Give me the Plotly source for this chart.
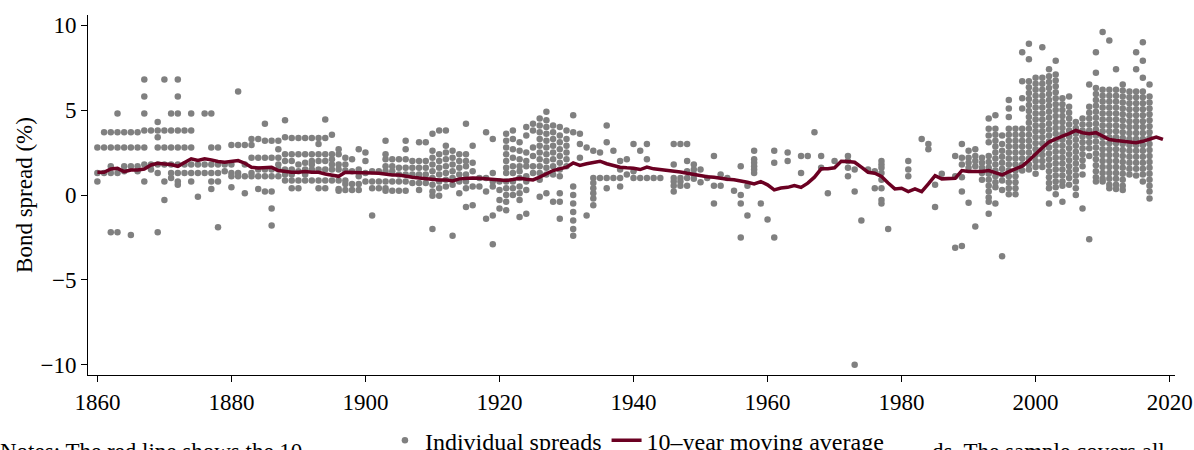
import plotly.graph_objects as go

# ---------------- data ----------------
# Individual spreads (%), grouped by year; each era starts at the given year
era_a_start = 1860
era_a_spreads = [
    [2.8, 1.3, 0.8],
    [3.7, 2.8, 1.3],
    [3.7, 2.8, 1.7, 1.3, -2.2],
    [4.8, 3.7, 2.8, 1.3, -2.2],
    [3.7, 2.8, 1.7, 1.4],
    [3.7, 2.8, 1.7, -2.35],
    [3.7, 2.8, 1.7, 1.4],
    [6.8, 5.8, 4.8, 3.8, 2.8, 1.8, 0.8],
    [3.8, 1.8, 1.5],
    [4.3, 3.8, 3.4, 2.8, 1.8, 1.3, -2.2],
    [6.8, 3.8, 2.8, 1.8, 0.8, -0.3],
    [4.8, 3.8, 2.8, 1.8, 1.3, 1.0],
    [6.8, 5.8, 4.8, 3.8, 2.8, 1.8, 1.3, 0.8, 0.6],
    [3.8, 2.8, 1.8, 1.3],
    [4.8, 3.8, 2.8, 1.8, 1.3, 0.8],
    [1.8, 1.3, -0.1],
    [4.8, 1.8, 1.3],
    [4.8, 2.8, 1.8, 1.3, 0.8, 0.35],
    [2.8, 1.8, 1.3, 0.8, -1.9],
    [1.8, 1.4],
    [2.95, 1.8, 1.3, 1.1, 0.45],
    [6.1, 2.95, 1.3, 1.1],
    [2.95, 1.8, 1.1, 0.1],
    [3.3, 2.95, 2.2, 1.3, 1.1],
    [3.3, 2.2, 1.5, 1.1, 0.35],
    [4.2, 3.2, 2.2, 1.5, 1.1, 0.2],
    [3.2, 2.2, 1.5, 1.1, 0.2, -0.8, -1.8],
    [3.2, 2.7, 2.2, 1.8, 1.5, 1.1],
]

era_b_start = 1888
era_b_spreads = [
    [4.4, 3.4, 2.4, 2.0, 1.5, 1.2, 0.85],
    [3.35, 2.4, 2.0, 1.5, 1.2, 0.85, 0.4],
    [3.35, 2.4, 1.8, 1.4, 0.85, 0.4],
    [3.35, 2.4, 1.9, 1.5, 1.2, 0.85],
    [3.35, 2.4, 2.0, 1.8, 1.5, 0.85],
    [3.35, 3.0, 2.4, 2.0, 1.5, 0.85, 0.4],
    [4.45, 3.35, 2.4, 2.0, 1.5, 0.85, 0.4],
    [3.55, 2.4, 2.1, 1.8, 1.5, 0.85],
    [2.7, 2.4, 1.8, 1.5, 0.85, 0.35, 0.25],
    [2.2, 1.8, 1.45, 0.85, 0.65, 0.3],
    [2.1, 1.4, 0.65, 0.3],
    [2.7, 1.5, 1.1, 0.65, 0.3],
    [2.5, 2.0, 1.3, 0.8],
    [1.4, 0.8, 0.4, -1.2],
    [1.4, 0.8, 0.4],
    [3.2, 2.4, 2.1, 1.7, 1.4, 0.8, 0.4, 0.25],
    [2.1, 1.7, 1.4, 0.8, 0.25],
    [2.1, 1.6, 1.2, 0.8, 0.25],
    [3.2, 2.7, 2.1, 1.6, 1.2, 0.8, 0.25],
    [2.0, 1.6, 1.2, 0.7],
    [3.1, 2.0, 1.6, 1.2, 0.7, 0.3],
    [3.1, 2.0, 1.6, 1.2, 0.7],
    [3.6, 2.6, 2.2, 1.8, 1.4, 1.0, 0.6, 0.2, -0.05, -2.0],
    [3.8, 2.4, 2.0, 1.6, 1.2, 0.8, 0.4, -0.05],
    [3.8, 2.9, 2.5, 2.1, 1.7, 1.3, 0.9, 0.5],
    [2.6, 2.2, 1.8, 1.4, 1.0, 0.6, -2.4],
    [2.4, 2.0, 1.6, 1.2, 0.8, 0.1],
    [4.2, 2.4, 2.0, 1.7, 1.2, 0.8, 0.4, -0.7],
]

era_c_start = 1916
era_c_spreads = [
    [2.9, 1.9, 1.4, 0.5, -0.6],
    [1.0, 0.5],
    [3.7, 1.0, 0.2, -1.4],
    [3.3, 1.3, 0.8, 0.5, -1.2, -2.9],
    [0.8, 0.3, -0.3, -0.8],
    [3.6, 3.2, 2.8, 2.4, 2.0, 1.6, 1.3, 0.8, 0.4, 0.0, -0.4, -0.9],
    [3.8, 3.3, 2.7, 2.2, 1.7, 1.3, 0.8, 0.4, 0.0],
    [3.1, 2.6, 2.1, 1.7, 1.4, 1.0, 0.5, 0.1, -0.3, -1.3],
    [4.0, 3.5, 2.5, 2.0, 1.7, 1.1, 0.8, 0.3, -1.1],
    [4.2, 3.8, 2.8, 2.3, 1.7, 1.3],
    [4.5, 4.1, 3.7, 3.3, 2.9, 2.5, 2.1, 1.7, 1.3, 0.9, -0.1],
    [4.9, 4.4, 4.0, 3.6, 3.2, 2.8, 2.4, 2.0, 1.6, 1.2, 0.1],
    [4.1, 3.7, 3.3, 2.9, 2.5, 2.1, 1.7, 1.2, -0.4],
    [4.0, 3.5, 3.1, 2.7, 2.3, 1.9, 1.5, 1.1, 0.1, -0.4, -1.4],
    [3.8, 3.3, 2.9, 2.5, 2.1, 1.7],
    [4.7, 3.7, 0.5, 0.0, -0.5, -1.0, -1.5, -2.0, -2.4],
    [3.6, 3.0, 2.2],
    [2.8, -1.2],
    [2.6, 1.0, 0.7, 0.4, 0.1, -0.2, -0.6],
    [2.5, 1.0],
    [4.1, 3.1, 1.0, 0.4],
    [2.6, 1.0],
    [2.0, 1.5, 1.0, 0.5],
    [2.1, 1.2],
    [3.0, 1.4, 1.0],
    [2.6, 1.0],
    [3.0, 2.1, 1.0],
    [1.0],
    [1.0],
    [],
]

era_d_start = 1946
era_d_spreads = [
    [3.0, 1.8, 1.0, 0.8, 0.55, 0.2],
    [3.0, 1.0, 0.8, 0.55],
    [3.0, 2.0, 1.4, 1.0, 0.55],
    [1.8, 1.5, 1.2, 0.95],
    [1.5, 0.75],
    [1.0],
    [2.3, 0.55, -0.5],
    [1.2, 0.55],
    [1.0],
    [0.25],
    [1.7, 0.0, -0.5, -2.5],
    [0.55, -1.2],
    [2.6, 2.1, 1.9, 1.7, 1.5, 1.3],
    [-0.5],
    [-1.45],
    [2.6, 1.9, -2.5],
    [],
    [2.5, 2.0],
    [],
    [2.3, 1.3],
    [2.3],
    [3.7],
    [2.3, 1.6],
    [0.1],
    [2.0],
    [],
    [2.3, 2.0, 1.6, 1.1],
    [1.5, 0.2, -10.0],
    [-1.5],
    [1.5],
    [1.4, 0.4],
    [2.0, 1.8, 1.6, 1.3, 0.9, 0.4, -0.3, -0.5],
    [-2.0],
    [],
    [],
    [2.0, 1.5, 1.1],
    [],
    [3.3],
    [3.0, 2.7],
    [0.6, -0.7],
    [1.25],
    [],
    [2.3, 1.1, -3.1],
    [3.0, 2.2, 1.8, 1.05, 0.2, -3.0],
    [2.6, 2.2, 1.9, 1.6, -0.45],
    [2.7, 2.3, 2.0, 1.7, -1.85],
    [2.2, 1.9, 1.6, 1.3, 0.9],
]

era_e_start = 1993
era_e_spreads = [
    [4.5, 3.9, 3.5, 3.1, 2.3, 1.95, 1.6, 1.25, 0.9, 0.55, 0.2, -0.15, -0.4, -1.1],
    [4.7, 3.9, 3.55, 3.2, 2.85, 2.5, 2.15, 1.8, 1.45, 1.1, 0.75, 0.45, -0.5],
    [3.5, 3.0, 2.6, 2.25, 1.9, 1.55, 1.2, 0.85, 0.3, -3.6],
    [5.6, 5.1, 4.6, 3.9, 3.55, 3.2, 2.85, 2.5, 2.15, 1.8, 1.45, 1.1, 0.75, 0.4, 0.05],
    [3.9, 3.55, 3.2, 2.85, 2.5, 2.15, 1.8, 1.45, 1.1, 0.75, 0.4, 0.05],
    [8.4, 6.7, 5.7, 5.1, 3.9, 3.55, 3.2, 2.85, 2.5, 2.15, 1.8, 1.45],
    [8.9, 8.0, 6.7, 6.35, 6.0, 5.65, 5.3, 4.95, 4.6, 4.25, 3.9, 3.55, 3.2, 2.85, 2.5, 2.15, 1.8, 1.5],
    [6.9, 6.55, 6.2, 5.85, 5.5, 5.15, 4.8, 4.45, 4.1, 3.75, 3.4, 3.05, 2.7, 2.35, 2.0, 1.65, 1.25],
    [8.7, 6.9, 6.55, 6.2, 5.85, 5.5, 5.15, 4.8, 4.45, 4.1, 3.75, 3.4, 3.05, 2.7, 2.35, 2.0, 1.65],
    [7.4, 7.0, 6.65, 6.3, 5.95, 5.6, 5.25, 4.9, 4.55, 4.2, 3.85, 3.5, 3.15, 2.8, 2.45, 2.1, 1.75, 1.4, 1.05, 0.7, 0.4, -0.5],
    [7.9, 7.1, 6.75, 6.4, 6.05, 5.7, 5.35, 5.0, 4.65, 4.3, 3.95, 3.6, 3.25, 2.9, 2.55, 2.2, 1.85, 1.5, 1.15, 0.8, 0.45, 0.05],
    [5.7, 5.35, 5.0, 4.65, 4.3, 3.95, 3.6, 3.25, 2.9, 2.55, 2.2, 1.85, 1.5, 1.15, 0.8, 0.55, -0.4],
    [5.8, 5.2, 4.85, 4.5, 4.15, 3.8, 3.45, 3.1, 2.75, 2.4, 2.05, 1.7, 1.35, 1.0, 0.6],
    [4.3, 3.95, 3.6, 3.25, 2.9, 2.55, 2.2, 1.85, 1.5, 1.15, 0.8, 0.4, 0.0],
    [4.5, 4.15, 3.8, 3.45, 3.1, 2.75, 2.4, 2.05, 1.7, 1.2, -0.8],
    [6.5, 5.2, 4.85, 4.5, 4.15, 3.8, 3.45, 3.1, 2.75, 2.3, -2.6],
    [8.4, 7.2, 6.3, 5.95, 5.6, 5.25, 4.9, 4.55, 4.2, 3.85, 3.5, 3.15, 2.8, 2.45, 2.1, 1.75, 1.4, 1.05, 0.8],
    [9.6, 6.2, 5.85, 5.5, 5.15, 4.8, 4.45, 4.1, 3.75, 3.4, 3.05, 2.7, 2.35, 2.0, 1.65, 1.3, 0.95, 0.8],
    [9.1, 6.2, 5.85, 5.5, 5.15, 4.8, 4.45, 4.1, 3.75, 3.4, 3.05, 2.7, 2.35, 2.0, 1.65, 1.3, 0.95, 0.6, 0.4],
    [7.4, 6.2, 5.85, 5.5, 5.15, 4.8, 4.45, 4.1, 3.75, 3.4, 3.05, 2.7, 2.35, 2.0, 1.65, 1.3, 0.95, 0.6, 0.35],
    [6.5, 6.15, 5.8, 5.45, 5.1, 4.75, 4.4, 4.05, 3.7, 3.35, 3.0, 2.65, 2.3, 1.95, 1.6, 1.25, 0.9, 0.55, 0.3],
    [6.1, 5.75, 5.4, 5.05, 4.7, 4.35, 4.0, 3.65, 3.3, 2.95, 2.6, 2.25, 1.9, 1.55, 1.2],
    [8.4, 7.4, 6.1, 5.75, 5.4, 5.05, 4.7, 4.35, 4.0, 3.65, 3.3, 2.95, 2.6, 2.25, 1.9, 1.55, 1.15],
    [9.0, 7.9, 6.9, 6.1, 5.75, 5.4, 5.05, 4.7, 4.35, 4.0, 3.65, 3.3, 2.95, 2.6, 2.25, 1.9, 1.55, 1.2, 0.8],
    [6.5, 5.8, 5.45, 5.1, 4.75, 4.4, 4.05, 3.7, 3.35, 3.0, 2.65, 2.3, 1.95, 1.6, 1.25, 0.9, 0.55, 0.2, -0.2],
]

# 10-year moving average, 1860-2019
ma_start = 1860
ma_values = [
    1.34, 1.34, 1.53, 1.57, 1.38, 1.47, 1.47, 1.53, 1.77, 1.87,
    1.83, 1.79, 1.69, 1.89, 2.13, 2.03, 2.13, 2.07, 1.97, 1.93,
    1.97, 2.03, 1.87, 1.63, 1.59, 1.59, 1.63, 1.44, 1.38, 1.34,
    1.34, 1.38, 1.34, 1.34, 1.24, 1.18, 1.10, 1.34, 1.34, 1.30,
    1.30, 1.30, 1.28, 1.22, 1.18, 1.18, 1.10, 1.05, 1.00, 0.95,
    0.91, 0.89, 0.89, 0.83, 0.95, 0.99, 1.00, 0.99, 0.95, 0.95,
    0.91, 0.85, 0.91, 0.99, 0.93, 0.89, 1.05, 1.24, 1.44, 1.54,
    1.64, 1.89, 1.74, 1.84, 1.93, 1.99, 1.84, 1.74, 1.64, 1.60,
    1.58, 1.50, 1.64, 1.54, 1.50, 1.47, 1.44, 1.36, 1.28, 1.20,
    1.12, 1.08, 1.04, 0.97, 0.93, 0.90, 0.85, 0.75, 0.65, 0.79,
    0.60, 0.30, 0.41, 0.45, 0.55, 0.45, 0.70, 1.05, 1.54, 1.54,
    1.60, 1.99, 1.97, 1.93, 1.64, 1.34, 1.28, 1.09, 0.71, 0.36,
    0.40, 0.20, 0.36, 0.20, 0.65, 1.14, 0.95, 0.98, 0.98, 1.44,
    1.38, 1.38, 1.38, 1.44, 1.30, 1.18, 1.38, 1.54, 1.70, 2.03,
    2.43, 2.78, 3.12, 3.31, 3.47, 3.61, 3.80, 3.67, 3.61, 3.67,
    3.47, 3.27, 3.21, 3.16, 3.12, 3.08, 3.16, 3.31, 3.41, 3.27,
]

x_tick_vals = [1860, 1880, 1900, 1920, 1940, 1960, 1980, 2000, 2020]
y_tick_vals = [-10, -5, 0, 5, 10]

legend_labels = ["Individual spreads", "10\u2013year moving average"]
y_title = "Bond spread (%)"
notes_left = "Notes: The red line shows the 10"
notes_right = "ds. The sample covers all"

# ---------------- assemble ----------------
scatter_x, scatter_y = [], []
for start, groups in [(era_a_start, era_a_spreads), (era_b_start, era_b_spreads),
                      (era_c_start, era_c_spreads), (era_d_start, era_d_spreads),
                      (era_e_start, era_e_spreads)]:
    for i, vals in enumerate(groups):
        for v in vals:
            scatter_x.append(start + i)
            scatter_y.append(v)

ma_years = [ma_start + i for i in range(len(ma_values))]

FONT = "Liberation Serif"
GRAY = "#808080"
MAROON = "#6b0022"

fig = go.Figure()
fig.add_trace(go.Scatter(
    x=scatter_x, y=scatter_y, mode="markers", name=legend_labels[0],
    marker=dict(color=GRAY, size=6.5, line=dict(width=0)),
))
fig.add_trace(go.Scatter(
    x=ma_years, y=ma_values, mode="lines", name=legend_labels[1],
    line=dict(color=MAROON, width=3.5),
))

# plot area: 88..1175 px horizontally, 15..375 px vertically (360 px tall)
fig.update_layout(
    width=1194, height=450,
    margin=dict(l=88, r=19, t=15, b=75, autoexpand=False),
    paper_bgcolor="white", plot_bgcolor="white",
    font=dict(family=FONT, size=23, color="black"),
    showlegend=True,
    legend=dict(orientation="h", x=0.505, xanchor="center", y=-0.12, yanchor="top",
                bgcolor="rgba(0,0,0,0)", font=dict(family=FONT, size=24),
                itemwidth=30, tracegroupgap=0),
    xaxis=dict(range=[1858.6, 2020.8], tickvals=x_tick_vals, showgrid=False, zeroline=False,
               showline=True, linecolor="black", linewidth=1, ticks="outside", ticklen=6,
               tickcolor="black", tickfont=dict(family=FONT, size=23)),
    yaxis=dict(range=[-10.6, 10.6], tickvals=y_tick_vals, showgrid=False, zeroline=False,
               showline=True, linecolor="black", linewidth=1, ticks="outside", ticklen=6,
               tickcolor="black", tickfont=dict(family=FONT, size=23),
               title=dict(text=y_title, font=dict(family=FONT, size=23), standoff=1)),
    annotations=[
        dict(text=notes_left, xref="paper", yref="paper", x=-0.083, y=-0.172,
             xanchor="left", yanchor="top", showarrow=False,
             font=dict(family=FONT, size=23, color="black")),
        dict(text=notes_right, xref="paper", yref="paper", x=0.775, y=-0.172,
             xanchor="left", yanchor="top", showarrow=False,
             font=dict(family=FONT, size=23, color="black")),
    ],
)

fig.write_html(
    "out.html",
    config={"displayModeBar": False},
    post_script="document.body.style.margin='0';document.body.style.overflow='hidden';",
)
